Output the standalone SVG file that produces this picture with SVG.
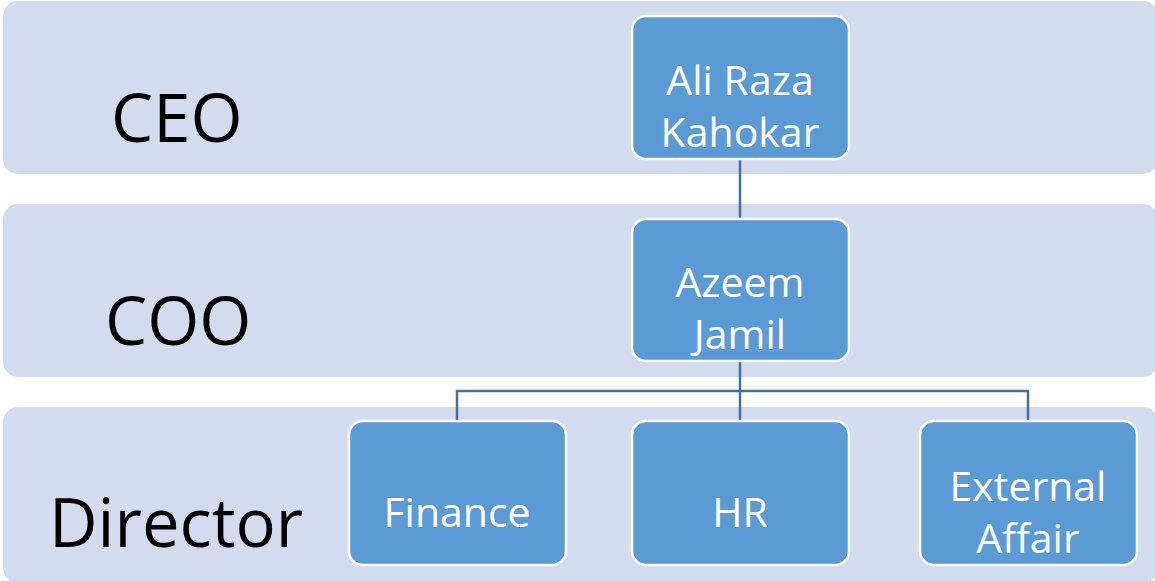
<svg xmlns="http://www.w3.org/2000/svg" width="1155" height="581" viewBox="0 0 1155 581">
<style>
.band{fill:#d2dcee}
.node{fill:#5b9bd5;stroke:#ffffff;stroke-width:2.5}
.lbl{font-family:"Open Sans","Liberation Sans",sans-serif;fill:#000;font-size:67px}
.nt{font-family:"Open Sans","Liberation Sans",sans-serif;fill:#fff;font-size:41px;text-anchor:middle}
.con{stroke:#41719c;stroke-width:2.5;fill:none}
</style>
<rect width="1155" height="581" fill="#ffffff"/>
<g id="band-ceo"><rect class="band" x="3" y="1" width="1155" height="173" rx="15"/><text class="lbl" x="111" y="142">CEO</text></g>
<g id="band-coo"><rect class="band" x="3" y="204" width="1155" height="173" rx="15"/><text class="lbl" x="105" y="345">COO</text></g>
<g id="band-director"><rect class="band" x="3" y="407" width="1155" height="176" rx="15"/><text class="lbl" x="49" y="547">Director</text></g>
<g id="connectors">
<path class="con" d="M740 159V219"/>
<path class="con" d="M740 361V421"/>
<path class="con" d="M457 421V391H1028V421"/>
</g>
<g id="node-ceo"><rect class="node" x="632" y="16" width="217" height="143" rx="14"/><text class="nt" x="740" y="95">Ali Raza</text><text class="nt" x="740" y="147">Kahokar</text></g>
<g id="node-coo"><rect class="node" x="632" y="219" width="217" height="142" rx="14"/><text class="nt" x="740" y="297">Azeem</text><text class="nt" x="740" y="349">Jamil</text></g>
<g id="node-finance"><rect class="node" x="349" y="421" width="217" height="144" rx="14"/><text class="nt" x="457" y="527">Finance</text></g>
<g id="node-hr"><rect class="node" x="632" y="421" width="217" height="144" rx="14"/><text class="nt" x="740" y="527">HR</text></g>
<g id="node-external"><rect class="node" x="920" y="421" width="217" height="144" rx="14"/><text class="nt" x="1028" y="501">External</text><text class="nt" x="1028" y="553">Affair</text></g>
</svg>
